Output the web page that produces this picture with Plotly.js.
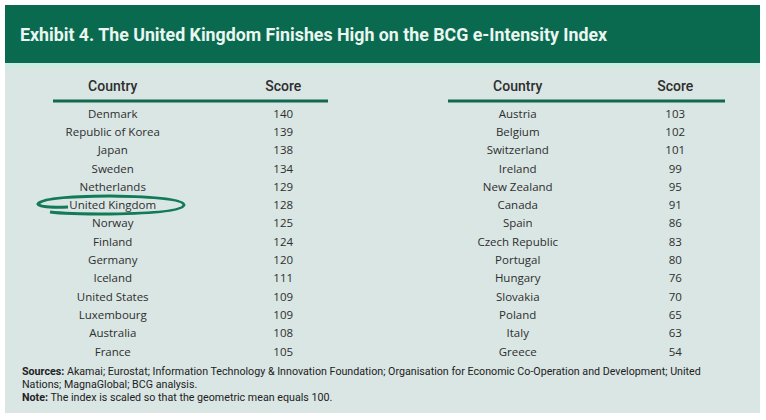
<!DOCTYPE html>
<html>
<head>
<meta charset="utf-8">
<script src="https://cdn.plot.ly/plotly-3.0.1.min.js"></script>
<style>html,body{margin:0;padding:0;background:#fff;}#chart{width:766px;height:420px;}</style>
</head>
<body>
<div id="chart"></div>
<script>
const headers = ["Country", "Score"];
const countriesLeft = ["Denmark", "Republic of Korea", "Japan", "Sweden", "Netherlands", "United Kingdom", "Norway", "Finland", "Germany", "Iceland", "United States", "Luxembourg", "Australia", "France"];
const scoresLeft = [140, 139, 138, 134, 129, 128, 125, 124, 120, 111, 109, 109, 108, 105];
const countriesRight = ["Austria", "Belgium", "Switzerland", "Ireland", "New Zealand", "Canada", "Spain", "Czech Republic", "Portugal", "Hungary", "Slovakia", "Poland", "Italy", "Greece"];
const scoresRight = [103, 102, 101, 99, 95, 91, 86, 83, 80, 76, 70, 65, 63, 54];
const titleText = "Exhibit 4. The United Kingdom Finishes High on the BCG e-Intensity Index";
const footLines = [
  "<b>Sources:</b> Akamai; Eurostat; Information Technology &amp; Innovation Foundation; Organisation for Economic Co-Operation and Development; United",
  "Nations; MagnaGlobal; BCG analysis.",
  "<b>Note:</b> The index is scaled so that the geometric mean equals 100."
];

(function () {
const W = 766, H = 420;
const px = x => x / W;
const py = y => 1 - y / H;

const green = "#0a6a50";
const textCol = "#2e2e2e";
const rowH = 18.3;
const headH = 29;
const tblTop = 72;
const tblBottom = tblTop + headH + rowH * countriesLeft.length;

function tableTrace(countries, scores, x0, x1, widths) {
  return {
    type: "table",
    domain: {x: [px(x0), px(x1)], y: [py(tblBottom), py(tblTop)]},
    columnwidth: widths,
    header: {
      values: headers,
      align: "center",
      height: headH,
      fill: {color: "rgba(0,0,0,0)"},
      line: {color: "rgba(0,0,0,0)", width: 0},
      font: {family: "Roboto", size: 14, color: textCol, weight: 500}
    },
    cells: {
      values: [countries, scores],
      align: "center",
      height: rowH,
      fill: {color: "rgba(0,0,0,0)"},
      line: {color: "rgba(0,0,0,0)", width: 0},
      font: {family: "Open Sans", size: 11.5, color: textCol}
    }
  };
}

const data = [
  tableTrace(countriesLeft, scoresLeft, 20, 362, [186, 156]),
  tableTrace(countriesRight, scoresRight, 430, 746, [176, 140])
];

const shapes = [
  {type: "rect", xref: "paper", yref: "paper", x0: px(5), x1: px(760), y0: py(413), y1: py(63), fillcolor: "#d9e6e4", line: {width: 0}, layer: "below"},
  {type: "rect", xref: "paper", yref: "paper", x0: px(5), x1: px(760), y0: py(68), y1: py(63), fillcolor: "#cdebe1", line: {width: 0}, layer: "below"},
  {type: "rect", xref: "paper", yref: "paper", x0: px(5), x1: px(760), y0: py(63), y1: py(5), fillcolor: green, line: {width: 0}, layer: "below"},
  {type: "line", xref: "paper", yref: "paper", x0: px(53), x1: px(328), y0: py(101), y1: py(101), line: {color: "#11684f", width: 3}},
  {type: "line", xref: "paper", yref: "paper", x0: px(448), x1: px(725), y0: py(101), y1: py(101), line: {color: "#11684f", width: 3}},
  {type: "path", xref: "paper", yref: "paper",
   path: "M " + px(68) + "," + py(207) + " Q " + px(40) + "," + py(208) + " " + px(38) + "," + py(204) +
         " Q " + px(42) + "," + py(196.5) + " " + px(110) + "," + py(196) +
         " Q " + px(183) + "," + py(197) + " " + px(184) + "," + py(205) +
         " Q " + px(182) + "," + py(213) + " " + px(110) + "," + py(214) +
         " Q " + px(65) + "," + py(214) + " " + px(50) + "," + py(212),
   line: {color: "#137a57", width: 3}}
];

const footY = [371, 384, 397];
const annotations = footLines.map((t, i) => ({
  xref: "paper", yref: "paper", x: px(20), y: py(footY[i]), xanchor: "left", yanchor: "middle", align: "left", showarrow: false,
  text: t, font: {family: "Roboto", size: 10.7, color: "#222"}
}));

const layout = {
  width: W, height: H,
  margin: {l: 0, r: 0, t: 0, b: 0},
  paper_bgcolor: "#ffffff",
  plot_bgcolor: "#ffffff",
  showlegend: false,
  title: {text: "<b>" + titleText + "</b>", x: px(20), xanchor: "left", xref: "container", y: 1 - 35 / H, yanchor: "middle", yref: "container",
          font: {family: "Roboto", size: 17.8, color: "#eaf6f0"}},
  shapes: shapes,
  annotations: annotations
};

Plotly.newPlot("chart", data, layout, {displayModeBar: false, staticPlot: true});
})();
</script>
</body>
</html>
